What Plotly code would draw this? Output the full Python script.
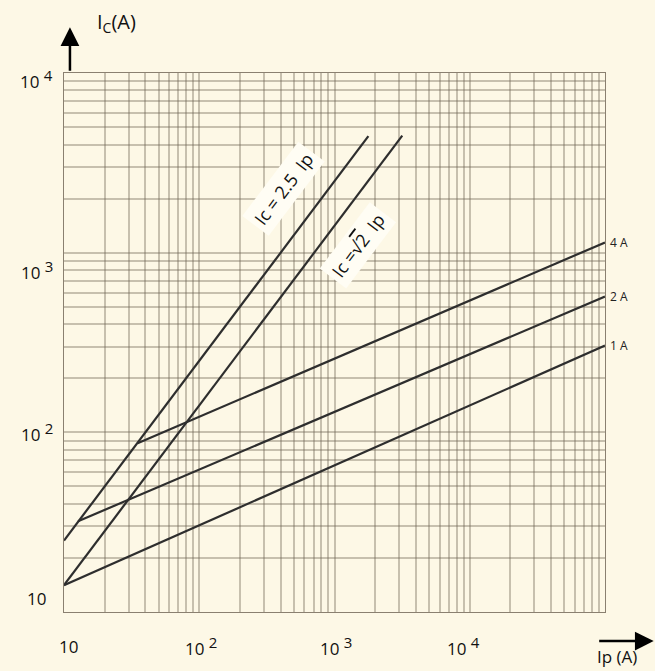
import numpy as np
import plotly.graph_objects as go

# data (log-log straight segments)
ip_25 = [10, 1780]
ic_25 = [25, 4450]
ip_sqrt2 = [10, 3170]
ic_sqrt2 = [14.1, 4480]
ip_4a = [35, 100000]
ic_4a = [87, 1140]
ip_2a = [12.7, 100000]
ic_2a = [32, 570]
ip_1a = [10, 100000]
ic_1a = [14.1, 304]

curve_names = ["4 A", "2 A", "1 A"]
x_ticks = [10, 100, 1000, 10000]
x_tick_exp = ["", "2", "3", "4"]
y_ticks = [10, 100, 1000, 10000]
y_tick_exp = ["", "2", "3", "4"]

bg = "#fdf8e6"
line_col = "#2e2e2e"
grid_col = "rgba(110,100,85,0.38)"
font = "Open Sans"


def power_label(e):
    if not e:
        return "10"
    return "10 <sup><span style='font-size:15px'>" + e + "</span></sup>"


fig = go.Figure()
for xs, ys in [(ip_25, ic_25), (ip_sqrt2, ic_sqrt2), (ip_4a, ic_4a), (ip_2a, ic_2a), (ip_1a, ic_1a)]:
    fig.add_trace(go.Scatter(x=xs, y=ys, mode="lines",
                             line=dict(color=line_col, width=2.2), showlegend=False))

ann = []
# labels at the right end of the current curves
for name, xs, ys in zip(curve_names, [ip_4a, ip_2a, ip_1a], [ic_4a, ic_2a, ic_1a]):
    ann.append(dict(x=np.log10(xs[-1]), y=np.log10(ys[-1]), xref="x", yref="y", text=name,
                    showarrow=False, xanchor="left", yanchor="middle", xshift=3,
                    font=dict(size=12, color="#222", family=font)))

# rotated labels of the two slope lines
ann.append(dict(x=np.log10(420), y=np.log10(2250), xref="x", yref="y", text="Ic = 2.5  Ip",
                showarrow=False, textangle=-53, bgcolor="#fffdf4", borderpad=4,
                xanchor="center", yanchor="middle",
                font=dict(size=18, color="#111", family=font)))
ann.append(dict(x=np.log10(1500), y=np.log10(1100), xref="x", yref="y",
                text="Ic =\u221a<span style='text-decoration:overline'>2</span>  Ip",
                showarrow=False, textangle=-53, bgcolor="#fffdf4", borderpad=4,
                xanchor="center", yanchor="middle",
                font=dict(size=18, color="#111", family=font)))

# tick labels
x_shift = [4, 2, 1, -6]
for v, e, s in zip(x_ticks, x_tick_exp, x_shift):
    ann.append(dict(x=np.log10(v), y=-0.064, xref="x", yref="paper", text=power_label(e),
                    showarrow=False, xanchor="center", yanchor="middle", xshift=s,
                    font=dict(size=17, color="#111", family=font)))
y_shift = [14, 0, -17, -6]
for v, e, s in zip(y_ticks, y_tick_exp, y_shift):
    ann.append(dict(x=-0.017 if e else -0.03, y=np.log10(v), xref="paper", yref="y",
                    text=power_label(e), showarrow=False, xanchor="right", yanchor="middle",
                    yshift=s, font=dict(size=17, color="#111", family=font)))

# axis titles with arrows
ann.append(dict(x=0.011, y=1.085, xref="paper", yref="paper", text="", showarrow=True,
                ax=0, ay=45, arrowhead=2, arrowsize=1.5, arrowwidth=2.5, arrowcolor="#000"))
ann.append(dict(x=0.057, y=1.093, xref="paper", yref="paper", text="I<sub>C</sub>(A)",
                showarrow=False, xanchor="left", yanchor="middle",
                font=dict(size=20, color="#111", family=font)))
ann.append(dict(x=1.09, y=-0.054, xref="paper", yref="paper", text="", showarrow=True,
                ax=-56, ay=0, arrowhead=2, arrowsize=1.5, arrowwidth=2.5, arrowcolor="#000"))
ann.append(dict(x=1.022, y=-0.082, xref="paper", yref="paper", text="Ip (A)",
                showarrow=False, xanchor="center", yanchor="middle",
                font=dict(size=17, color="#111", family=font)))

fig.update_layout(
    width=655, height=671,
    margin=dict(l=64, r=50, t=73, b=59),
    paper_bgcolor=bg, plot_bgcolor=bg,
    annotations=ann,
    xaxis=dict(type="log", range=[1, 5], dtick="D1", showticklabels=False, ticks="",
               showgrid=True, gridcolor=grid_col, gridwidth=1.5, zeroline=False,
               showline=True, linecolor="#8a8070", linewidth=1, mirror=True),
    yaxis=dict(type="log", range=[1, 4], dtick="D1", showticklabels=False, ticks="",
               showgrid=True, gridcolor=grid_col, gridwidth=1.5, zeroline=False,
               showline=True, linecolor="#8a8070", linewidth=1, mirror=True),
)

fig.write_html("out.html", config={"displayModeBar": False},
               post_script="document.body.style.margin='0';")
